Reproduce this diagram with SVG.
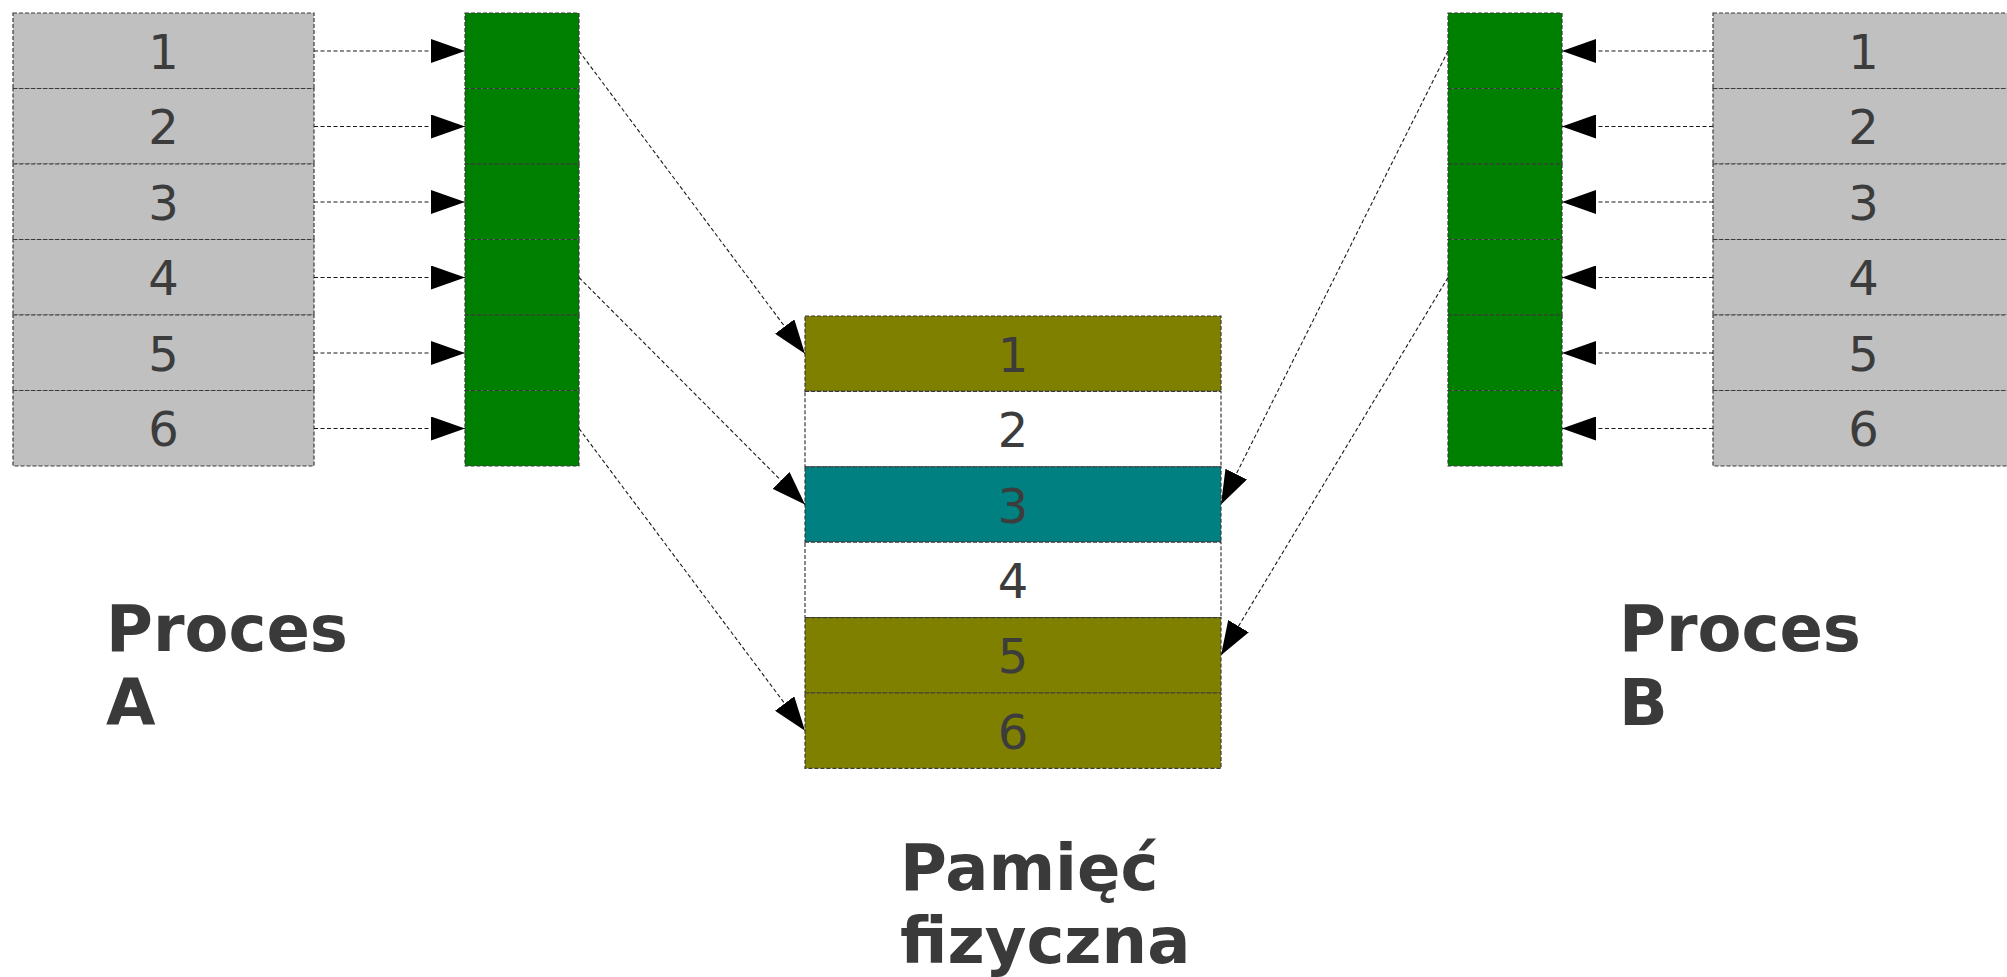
<svg xmlns="http://www.w3.org/2000/svg" width="2007" height="977" viewBox="0 0 2007 977">
  <defs>
    <style>
      .cell { stroke: #3a3a3a; stroke-width: 1.2; stroke-dasharray: 4 2; }
      .gray { fill: #c0c0c0; }
      .green { fill: #008000; }
      .olive { fill: #808000; }
      .teal { fill: #008080; }
      .white { fill: #ffffff; }
      .num { font-family: "DejaVu Sans", "Liberation Sans", sans-serif; font-size: 48px; fill: #3c3c3c; text-anchor: middle; }
      .title { font-family: "DejaVu Sans", "Liberation Sans", sans-serif; font-size: 64px; font-weight: bold; fill: #3a3a3a; }
      .link { fill: none; stroke: #1a1a1a; stroke-width: 1.1; stroke-dasharray: 4 2.5; marker-end: url(#tip); }
    </style>
    <marker id="tip" markerUnits="userSpaceOnUse" markerWidth="34" markerHeight="24" refX="34" refY="12" orient="auto" viewBox="0 0 34 24">
      <path d="M0,0 L34,12 L0,24 z" fill="#000"/>
    </marker>
  </defs>

  <!-- Process A page table (virtual pages) -->
  <g id="procA-pages">
    <rect class="cell gray" x="13" y="13" width="301" height="75.5"/>
    <rect class="cell gray" x="13" y="88.5" width="301" height="75.5"/>
    <rect class="cell gray" x="13" y="164" width="301" height="75.5"/>
    <rect class="cell gray" x="13" y="239.5" width="301" height="75.5"/>
    <rect class="cell gray" x="13" y="315" width="301" height="75.5"/>
    <rect class="cell gray" x="13" y="390.5" width="301" height="75.5"/>
    <text class="num" x="163.5" y="68.5">1</text>
    <text class="num" x="163.5" y="144">2</text>
    <text class="num" x="163.5" y="219.5">3</text>
    <text class="num" x="163.5" y="295">4</text>
    <text class="num" x="163.5" y="370.5">5</text>
    <text class="num" x="163.5" y="446">6</text>
  </g>

  <!-- Process A mapping column -->
  <g id="procA-map">
    <rect class="cell green" x="465" y="13" width="114" height="75.5"/>
    <rect class="cell green" x="465" y="88.5" width="114" height="75.5"/>
    <rect class="cell green" x="465" y="164" width="114" height="75.5"/>
    <rect class="cell green" x="465" y="239.5" width="114" height="75.5"/>
    <rect class="cell green" x="465" y="315" width="114" height="75.5"/>
    <rect class="cell green" x="465" y="390.5" width="114" height="75.5"/>
  </g>

  <!-- Physical memory frames -->
  <g id="memory">
    <rect class="cell olive" x="805" y="316" width="416" height="75.4"/>
    <rect class="cell white" x="805" y="391.4" width="416" height="75.4"/>
    <rect class="cell teal" x="805" y="466.8" width="416" height="75.4"/>
    <rect class="cell white" x="805" y="542.2" width="416" height="75.4"/>
    <rect class="cell olive" x="805" y="617.6" width="416" height="75.4"/>
    <rect class="cell olive" x="805" y="693" width="416" height="75.4"/>
    <text class="num" x="1013" y="371.5">1</text>
    <text class="num" x="1013" y="447">2</text>
    <text class="num" x="1013" y="522.5">3</text>
    <text class="num" x="1013" y="598">4</text>
    <text class="num" x="1013" y="673">5</text>
    <text class="num" x="1013" y="748.5">6</text>
  </g>

  <!-- Process B mapping column -->
  <g id="procB-map">
    <rect class="cell green" x="1448" y="13" width="114" height="75.5"/>
    <rect class="cell green" x="1448" y="88.5" width="114" height="75.5"/>
    <rect class="cell green" x="1448" y="164" width="114" height="75.5"/>
    <rect class="cell green" x="1448" y="239.5" width="114" height="75.5"/>
    <rect class="cell green" x="1448" y="315" width="114" height="75.5"/>
    <rect class="cell green" x="1448" y="390.5" width="114" height="75.5"/>
  </g>

  <!-- Process B page table (virtual pages) -->
  <g id="procB-pages">
    <rect class="cell gray" x="1713" y="13" width="301" height="75.5"/>
    <rect class="cell gray" x="1713" y="88.5" width="301" height="75.5"/>
    <rect class="cell gray" x="1713" y="164" width="301" height="75.5"/>
    <rect class="cell gray" x="1713" y="239.5" width="301" height="75.5"/>
    <rect class="cell gray" x="1713" y="315" width="301" height="75.5"/>
    <rect class="cell gray" x="1713" y="390.5" width="301" height="75.5"/>
    <text class="num" x="1863.5" y="68.5">1</text>
    <text class="num" x="1863.5" y="144">2</text>
    <text class="num" x="1863.5" y="219.5">3</text>
    <text class="num" x="1863.5" y="295">4</text>
    <text class="num" x="1863.5" y="370.5">5</text>
    <text class="num" x="1863.5" y="446">6</text>
  </g>

  <!-- Connectors -->
  <g id="connectors">
    <!-- A: pages to mapping column -->
    <line class="link" x1="314" y1="51" x2="465" y2="51"/>
    <line class="link" x1="314" y1="126.5" x2="465" y2="126.5"/>
    <line class="link" x1="314" y1="202" x2="465" y2="202"/>
    <line class="link" x1="314" y1="277.5" x2="465" y2="277.5"/>
    <line class="link" x1="314" y1="353" x2="465" y2="353"/>
    <line class="link" x1="314" y1="428.5" x2="465" y2="428.5"/>
    <!-- A: mapping to frames -->
    <line class="link" x1="579" y1="51" x2="805" y2="353.7"/>
    <line class="link" x1="579" y1="277.5" x2="805" y2="504.5"/>
    <line class="link" x1="579" y1="428.5" x2="805" y2="730.7"/>
    <!-- B: pages to mapping column -->
    <line class="link" x1="1713" y1="51" x2="1562" y2="51"/>
    <line class="link" x1="1713" y1="126.5" x2="1562" y2="126.5"/>
    <line class="link" x1="1713" y1="202" x2="1562" y2="202"/>
    <line class="link" x1="1713" y1="277.5" x2="1562" y2="277.5"/>
    <line class="link" x1="1713" y1="353" x2="1562" y2="353"/>
    <line class="link" x1="1713" y1="428.5" x2="1562" y2="428.5"/>
    <!-- B: mapping to frames -->
    <line class="link" x1="1448" y1="51" x2="1221" y2="504.5"/>
    <line class="link" x1="1448" y1="277.5" x2="1221" y2="655.3"/>
  </g>

  <!-- Captions -->
  <g id="label-procA">
    <text class="title" x="106" y="651">Proces</text>
    <text class="title" x="106" y="725">A</text>
  </g>
  <g id="label-procB">
    <text class="title" x="1619" y="651">Proces</text>
    <text class="title" x="1619" y="725">B</text>
  </g>
  <g id="label-memory">
    <text class="title" x="900" y="890">Pamięć</text>
    <text class="title" x="900" y="963">fizyczna</text>
  </g>
</svg>
